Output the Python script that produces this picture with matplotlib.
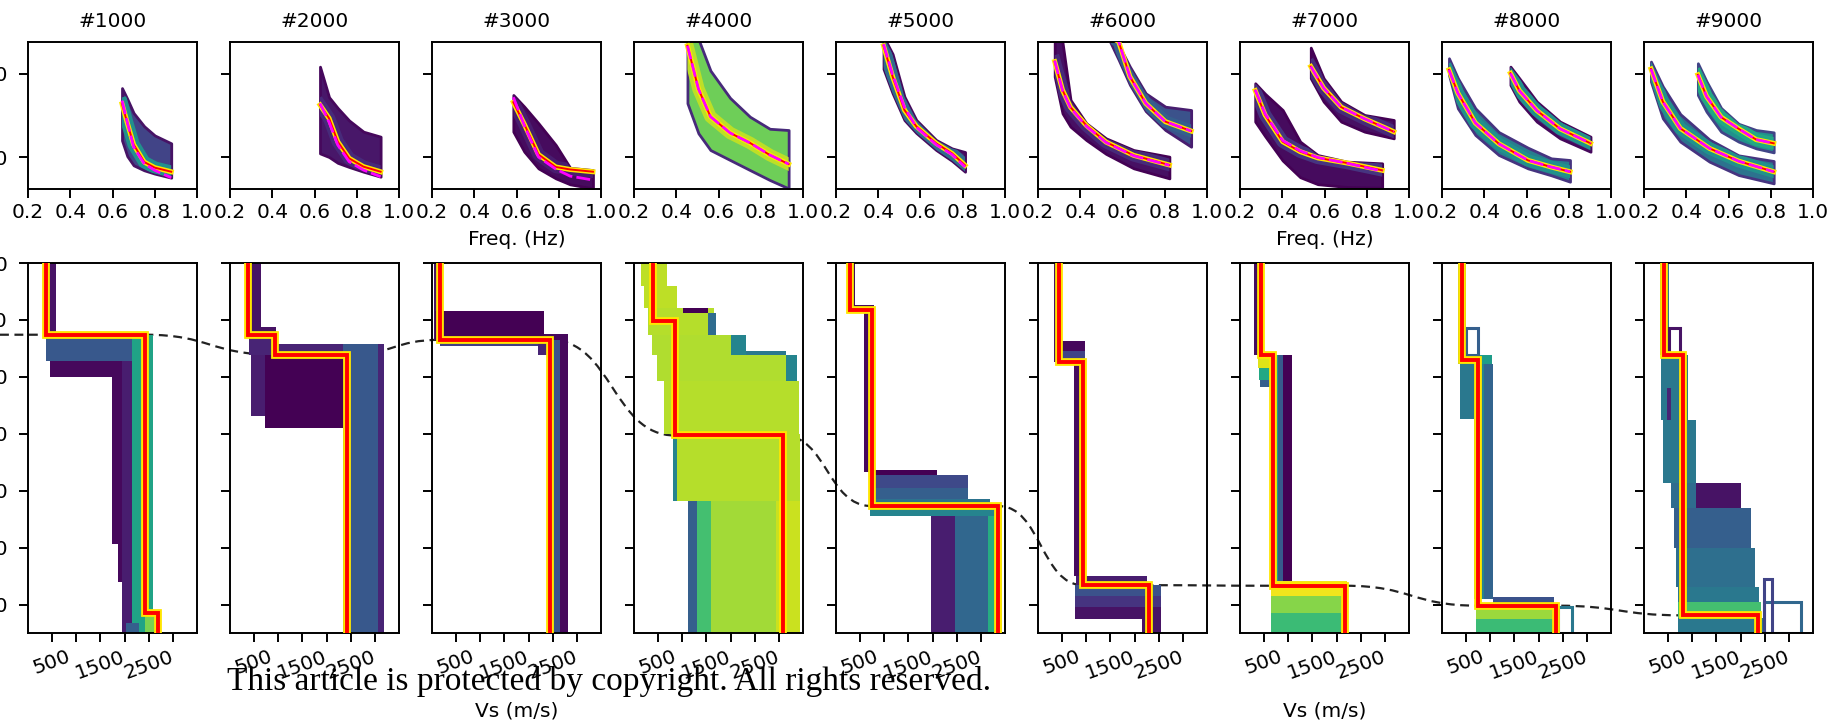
import numpy as np
import matplotlib.pyplot as plt
from matplotlib.path import Path
from matplotlib.patches import PathPatch

# ---------------------------------------------------
# data
# ---------------------------------------------------
samples = [1000, 2000, 3000, 4000, 5000, 6000, 7000, 8000, 9000]

# dispersion fans: rows of (freq Hz, v_low, v_high, v_best, v_obs) in m/s
disp_1000 = [(0.645, 1200, 1830, 1640, 1680), (0.67, 1010, 1700, 1410, 1420), (0.70, 900, 1530, 1150, 1120),
             (0.75, 840, 1370, 940, 920), (0.80, 800, 1260, 872, 840), (0.878, 751, 1165, 823, 751)]
disp_2000 = [(0.626, 1044, 2088, 1627, 1647), (0.669, 1000, 1720, 1466, 1420), (0.71, 930, 1590, 1185, 1145),
             (0.764, 880, 1440, 984, 944), (0.832, 823, 1305, 884, 843), (0.913, 763, 1245, 823, 763)]
disp_3000 = [(0.585, 1305, 1747, 1660, 1720), (0.637, 1064, 1606, 1395, 1380), (0.704, 863, 1406, 1030, 1000),
             (0.786, 743, 1145, 880, 855), (0.854, 671, 870, 850, 770), (0.962, 622, 843, 823, 723)]
disp_4000 = [(0.453, 1647, 2450, 2340, 2340), (0.505, 1285, 2420, 1820, 1820), (0.562, 1084, 2040, 1486, 1486),
             (0.655, 964, 1711, 1290, 1290), (0.749, 843, 1485, 1170, 1170), (0.843, 723, 1340, 1024, 1024),
             (0.932, 622, 1325, 915, 915)]
disp_5000 = [(0.425, 2060, 2450, 2340, 2360), (0.468, 1767, 2240, 1968, 1990), (0.524, 1445, 1727, 1566, 1600),
             (0.580, 1290, 1446, 1370, 1360), (0.674, 1085, 1205, 1165, 1150), (0.749, 955, 1104, 1044, 1030),
             (0.811, 823, 1060, 900, 880)]
disp_6000a = [(0.279, 1968, 2450, 2149, 2160), (0.316, 1525, 2380, 1807, 1800), (0.354, 1365, 1687, 1600, 1590),
              (0.429, 1204, 1406, 1380, 1370), (0.522, 1038, 1225, 1180, 1175), (0.653, 864, 1084, 1020, 1015),
              (0.822, 743, 1004, 904, 900)]
disp_6000b = [(0.541, 2389, 2450, 2450, 2450), (0.582, 2170, 2350, 2389, 2389), (0.635, 1870, 2088, 1968, 1968),
              (0.710, 1553, 1767, 1647, 1647), (0.803, 1325, 1606, 1426, 1426), (0.925, 1124, 1566, 1313, 1313)]
disp_7000a = [(0.272, 1426, 1888, 1800, 1810), (0.319, 1250, 1760, 1506, 1520), (0.402, 958, 1566, 1185, 1200),
              (0.485, 757, 1185, 1065, 1075), (0.568, 673, 1024, 990, 995), (0.707, 639, 944, 928, 925),
              (0.873, 630, 924, 840, 830)]
disp_7000b = [(0.535, 1948, 2317, 2090, 2090), (0.596, 1667, 1948, 1830, 1830), (0.679, 1426, 1667, 1600, 1600),
              (0.790, 1305, 1506, 1460, 1460), (0.928, 1225, 1446, 1305, 1305)]
disp_8000a = [(0.233, 1988, 2189, 2050, 2050), (0.275, 1586, 1950, 1770, 1770), (0.358, 1265, 1586, 1410, 1410),
              (0.469, 1024, 1300, 1160, 1160), (0.607, 863, 1112, 960, 960), (0.717, 780, 984, 880, 880),
              (0.806, 703, 964, 823, 823)]
disp_8000b = [(0.524, 1867, 2088, 2008, 2008), (0.566, 1667, 1948, 1800, 1800), (0.649, 1426, 1667, 1560, 1560),
              (0.759, 1225, 1426, 1340, 1340), (0.903, 1064, 1245, 1165, 1165)]
disp_9000a = [(0.233, 1908, 2149, 2060, 2060), (0.289, 1466, 1850, 1667, 1667), (0.372, 1185, 1516, 1345, 1345),
              (0.510, 944, 1210, 1104, 1104), (0.648, 783, 1020, 950, 950), (0.814, 683, 952, 823, 823)]
disp_9000b = [(0.455, 1747, 2129, 1990, 1990), (0.496, 1546, 1910, 1730, 1730), (0.565, 1305, 1590, 1480, 1480),
              (0.648, 1185, 1400, 1340, 1340), (0.731, 1104, 1325, 1210, 1210), (0.814, 1056, 1297, 1165, 1165)]

disp_branches = [[disp_1000], [disp_2000], [disp_3000], [disp_4000], [disp_5000],
                 [disp_6000a, disp_6000b], [disp_7000a, disp_7000b], [disp_8000a, disp_8000b],
                 [disp_9000a, disp_9000b]]
# misfit shade of each fan (fill, rim, core) on viridis
fan_shade = [[(0.2, 0.05, 0.5)], [(0.06, 0.02, 0.12)], [(0.03, 0.0, 0.08)], [(0.78, 0.12, 0.9)],
             [(0.06, 0.02, 0.35)], [(0.04, 0.0, 0.12), (0.25, 0.08, 0.3)],
             [(0.03, 0.0, 0.15), (0.04, 0.0, 0.12)], [(0.42, 0.15, 0.5), (0.1, 0.02, 0.5)],
             [(0.38, 0.15, 0.5), (0.5, 0.2, 0.6)]]

# best Vs models: layer top depth (km) and Vs (m/s)
best_top = [[0, 12.6, 61.4], [0, 12.6, 16.1], [0, 13.5], [0, 10.2, 30.3], [0, 8.2, 42.7],
            [0, 17.4, 56.6], [0, 16.1, 56.7], [0, 17.0, 60.2], [0, 16.1, 61.9]]
best_vs = [[382, 2426, 2689], [382, 939, 2426], [175, 2442], [398, 851, 3079], [286, 740, 3365],
           [438, 939, 2291], [428, 687, 2182], [420, 744, 2360], [412, 808, 2352]]
link_layer = [1, 2, 1, 2, 2, 2, 2, 2, 2]

# ensemble of sampled models: (vs_min, vs_max, depth_top, depth_bottom, misfit shade)
ens_1000 = [(334, 581, 0, 12.6, 0.05), (370, 2148, 12.6, 17.3, 0.27), (461, 1750, 17.3, 20.1, 0.02),
            (1734, 1950, 17.3, 49.4, 0.02), (1950, 2148, 17.3, 65, 0.08), (1870, 1950, 49.4, 56, 0.02),
            (2148, 2585, 12.6, 65, 0.58), (2030, 2300, 63.2, 65, 0.3), (2426, 2705, 61.4, 65, 0.8)]
ens_2000 = [(358, 636, 0, 11.3, 0.05), (358, 955, 11.3, 12.6, 0.05), (400, 955, 12.6, 16.1, 0.1),
            (939, 2347, 14.3, 16.1, 0.1), (437, 2347, 16.1, 26.9, 0.0), (437, 716, 16.1, 26.9, 0.08),
            (716, 2347, 26.9, 28.9, 0.0), (2347, 3063, 14.3, 65, 0.27), (3063, 3198, 14.3, 65, 0.1)]
ens_3000 = [(40, 190, 0, 13.5, 0.05), (56, 2323, 8.5, 13.5, 0.0), (2323, 2760, 12.5, 14.6, 0.02),
            (175, 2190, 13.5, 14.6, 0.18), (2190, 2420, 13.5, 16.1, 0.1), (2420, 2522, 13.5, 65, 0.55),
            (2522, 2641, 13.5, 65, 0.25), (2641, 2816, 12.5, 65, 0.02)]
ens_4000 = [(135, 692, 0, 4.1, 0.9), (200, 890, 4.1, 7.9, 0.9), (300, 1650, 7.9, 12.6, 0.89),
            (1010, 1530, 7.9, 8.8, 0.0), (1530, 1700, 8.8, 12.6, 0.35), (380, 2000, 12.6, 16.1, 0.88),
            (2000, 2320, 12.6, 16.1, 0.45), (2320, 3150, 15.5, 16.1, 0.4), (470, 3150, 16.1, 20.8, 0.88),
            (3150, 3380, 16.1, 20.8, 0.45), (620, 3420, 20.8, 30.1, 0.89), (800, 3440, 30.1, 41.8, 0.89),
            (800, 900, 30.1, 41.8, 0.45), (1114, 1300, 41.8, 65, 0.3), (1300, 1600, 41.8, 65, 0.7),
            (1600, 2950, 41.8, 65, 0.86), (2950, 3440, 41.8, 65, 0.92)]
ens_5000 = [(262, 398, 0, 7.3, 0.02), (262, 780, 7.3, 8.2, 0.02), (580, 803, 8.2, 36.8, 0.02),
            (803, 2092, 36.3, 37.2, 0.0), (803, 2729, 37.2, 39.5, 0.22), (803, 2729, 39.5, 41.5, 0.3),
            (803, 3190, 41.5, 42.7, 0.38), (700, 3405, 42.7, 44.4, 0.45), (1973, 2474, 44.4, 65, 0.08),
            (2474, 3142, 44.4, 65, 0.33), (3142, 3325, 44.4, 65, 0.62), (3325, 3445, 42.7, 65, 0.9)]
ens_6000 = [(334, 453, 0, 17.4, 0.05), (453, 978, 13.7, 15.5, 0.02), (453, 978, 15.5, 17.4, 0.2),
            (740, 1000, 17.4, 55, 0.03), (796, 2267, 55, 56.6, 0.08), (772, 2546, 56.6, 58.5, 0.25),
            (772, 2546, 58.5, 60.5, 0.15), (772, 2546, 60.5, 62.5, 0.05), (2148, 2546, 62.5, 65, 0.05)]
ens_7000 = [(283, 485, 0, 16.1, 0.03), (380, 650, 16.1, 18.5, 0.95), (400, 650, 18.5, 20.5, 0.6),
            (420, 650, 20.5, 21.8, 0.3), (687, 780, 16.1, 56.1, 0.55), (780, 900, 16.1, 56.1, 0.28),
            (900, 1067, 16.1, 56.1, 0.0), (647, 2223, 55.8, 58.5, 0.98), (647, 2223, 58.5, 61.5, 0.82),
            (647, 2223, 61.5, 65, 0.68)]
ens_8000 = [(323, 501, 0, 17.0, 0.35), (340, 1027, 16.1, 17.8, 0.55), (380, 663, 17.8, 27.4, 0.4),
            (663, 870, 17.8, 59, 0.45), (870, 1051, 17.8, 59, 0.32), (1051, 2319, 58.6, 60.2, 0.25),
            (703, 2400, 60.2, 62.5, 0.85), (703, 2400, 62.5, 65, 0.68)]
ens_9000 = [(323, 509, 0, 16.1, 0.4), (355, 915, 16.1, 27.5, 0.4), (485, 550, 22.0, 38.6, 0.1),
            (400, 1075, 27.5, 38.6, 0.4), (550, 1075, 38.6, 43, 0.35), (1075, 2004, 38.6, 44, 0.05),
            (620, 2206, 43, 50, 0.3), (660, 2300, 50, 57, 0.36), (700, 2380, 57, 59.5, 0.4),
            (711, 2420, 59.5, 62.3, 0.7), (711, 2500, 62.3, 65, 0.4)]
ensembles = [ens_1000, ens_2000, ens_3000, ens_4000, ens_5000, ens_6000, ens_7000, ens_8000, ens_9000]

# isolated sampled models seen only as outlines
box_8000 = [(501, 744, 11.4, 16.1, 0.3), (2400, 2683, 60.5, 65, 0.4)]
box_9000 = [(509, 744, 11.4, 16.1, 0.05), (2490, 3258, 59.6, 65, 0.33), (2490, 2650, 55.5, 65, 0.2)]
boxes = [[], [], [], [], [], [], [], box_8000, box_9000]

# ---------------------------------------------------
# figure
# ---------------------------------------------------
W, H = 1837, 723
fig = plt.figure(figsize=(W / 100, H / 100), dpi=100)
cmap = plt.get_cmap('viridis')
tick_kw = dict(direction='out', length=6.5, width=1.4, labelsize=14.5)

top_axes, bot_axes = [], []
for i, n in enumerate(samples):
    left = (28 + 202 * i) / W
    ax = fig.add_axes([left, 1 - 189 / H, 169 / W, 147 / H])
    ax2 = fig.add_axes([left, 1 - 633 / H, 169 / W, 370 / H])
    top_axes.append(ax)
    bot_axes.append(ax2)

    # --- dispersion curves
    for rows, (c_fill, c_rim, c_core) in zip(disp_branches[i], fan_shade[i]):
        f, lo, hi, best, obs = np.array(rows, dtype=float).T
        fan = ax.fill_between(f, lo, hi, facecolor=cmap(c_fill), edgecolor=cmap(c_rim), lw=2.0, zorder=1)
        core, = ax.plot(f, best, color=cmap(c_core), lw=9, zorder=2)
        core.set_clip_path(fan.get_paths()[0], fan.get_transform())
        ax.plot(f, best, color='#ffe600', lw=3.6, zorder=3)
        ax.plot(f, best, color='red', lw=1.4, zorder=4)
        ax.plot(f, obs, color='magenta', lw=2.0, ls=(0, (5, 1.5)), zorder=5)
    ax.set_xlim(0.2, 1.0)
    ax.set_ylim(615, 2385)
    ax.set_xticks([0.2, 0.4, 0.6, 0.8, 1.0])
    ax.set_xticklabels(['0.2', '0.4', '0.6', '0.8', '1.0'])
    ax.set_yticks([1000, 2000])
    ax.tick_params(**tick_kw)
    ax.tick_params(axis='y', pad=8, labelleft=(i == 0))
    ax.set_title(f'#{n}', fontsize=14.5, pad=11)

    # --- Vs profiles
    for vs0, vs1, d0, d1, c in ensembles[i]:
        ax2.barh(d0, vs1 - vs0, height=d1 - d0, left=vs0, align='edge', color=cmap(c), lw=0, zorder=1)
    for vs0, vs1, d0, d1, c in boxes[i]:
        ax2.barh(d0, vs1 - vs0, height=d1 - d0, left=vs0, align='edge', fill=False,
                 edgecolor=cmap(c), lw=2.2, zorder=1)
    tops = np.array(best_top[i] + [65.0])
    vs = np.array(best_vs[i], dtype=float)
    px = np.repeat(vs, 2)
    py = np.column_stack([tops[:-1], tops[1:]]).ravel()
    ax2.plot(px, py, color='#ffe600', lw=5.6, zorder=3, solid_joinstyle='miter')
    ax2.plot(px, py, color='red', lw=2.8, zorder=4, solid_joinstyle='miter')
    ax2.set_xlim(0, 3500)
    ax2.set_ylim(65, 0)
    ax2.set_xticks([500, 1000, 1500, 2000, 2500, 3000])
    ax2.set_xticklabels(['500', '', '1500', '', '2500', ''], rotation=20)
    ax2.set_yticks([0, 10, 20, 30, 40, 50, 60])
    ax2.tick_params(**tick_kw)
    ax2.tick_params(axis='y', pad=8, labelleft=(i == 0))

    for a in (ax, ax2):
        a.set_facecolor('none')
        for s in a.spines.values():
            s.set_linewidth(1.4)

for k in (2, 6):
    top_axes[k].set_xlabel('Freq. (Hz)', fontsize=14.5, labelpad=6)
    bot_axes[k].set_xlabel('Vs (m/s)', fontsize=14.5, labelpad=14)

# --- dashed line linking the main interface across the panels
to_fig = fig.transFigure.inverted()
pts = []
for ax2, tops, vs, k in zip(bot_axes, best_top, best_vs, link_layer):
    a = to_fig.transform(ax2.transData.transform((vs[k - 1], tops[k])))
    b = to_fig.transform(ax2.transData.transform((vs[k], tops[k])))
    pts.append((a, b))
verts = [(0.0, pts[0][0][1]), tuple(pts[0][0]), tuple(pts[0][1])]
codes = [Path.MOVETO, Path.LINETO, Path.LINETO]
for (a0, b0), (a1, b1) in zip(pts[:-1], pts[1:]):
    half = (a1[0] - b0[0]) / 2
    verts += [(b0[0] + half, b0[1]), (a1[0] - half, a1[1]), tuple(a1), tuple(b1)]
    codes += [Path.CURVE4, Path.CURVE4, Path.CURVE4, Path.LINETO]
link = PathPatch(Path(verts, codes), transform=fig.transFigure, fill=False,
                 ec='#222222', lw=1.6, ls=(0, (4, 2.5)), zorder=-1)
fig.add_artist(link)

fig.text(609 / W, 1 - 690 / H, 'This article is protected by copyright. All rights reserved.',
         ha='center', va='baseline', family='Liberation Serif', fontsize=24)

fig.savefig('out.png', dpi=100)
